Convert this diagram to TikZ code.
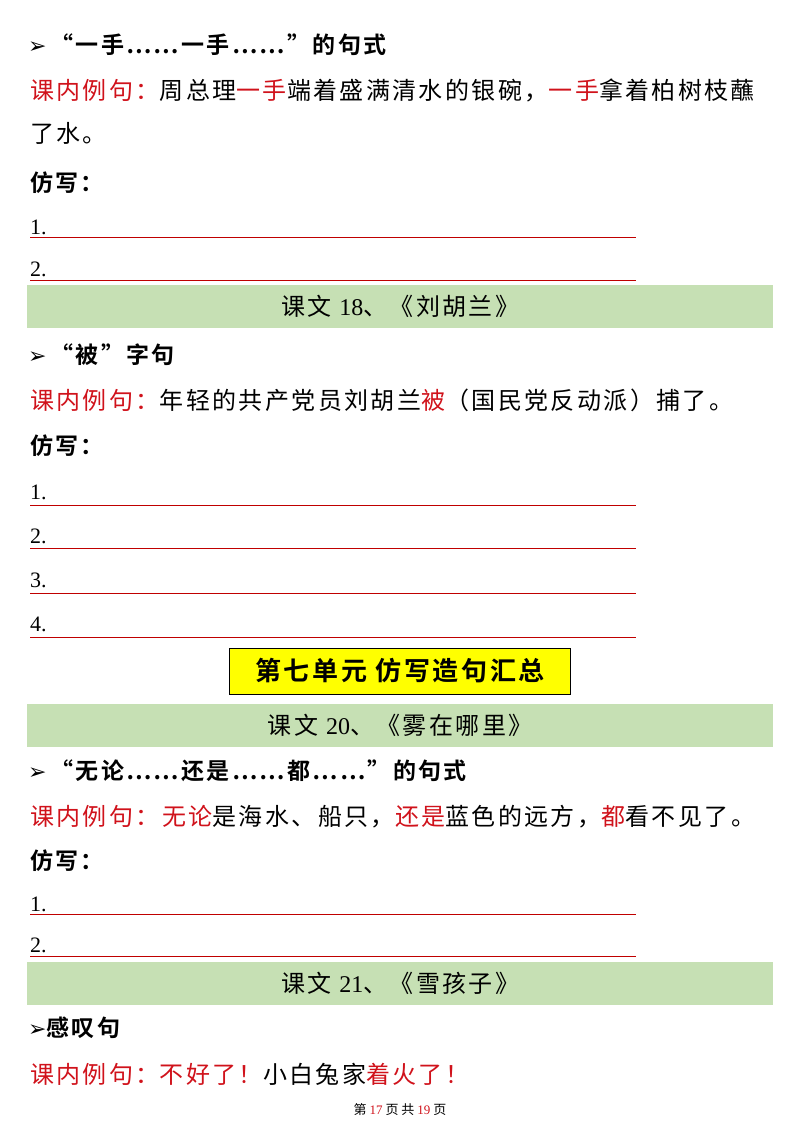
\documentclass[tikz,border=0pt]{standalone}
\usepackage{fontspec}
\setmainfont{Liberation Serif}
\newfontfamily\cjk[LetterSpace=10]{Noto Sans CJK SC}
\newfontfamily\cjkn{Noto Sans CJK SC}
\newfontfamily\cjkb[LetterSpace=10]{Noto Sans CJK SC Bold}
\newfontfamily\dvs{DejaVu Sans}
\definecolor{hred}{HTML}{D0121B}
\definecolor{band}{HTML}{C6E0B4}
\definecolor{ylw}{HTML}{FFFF00}
\definecolor{lred}{HTML}{C00000}
\begin{document}
\begin{tikzpicture}[x=1pt,y=-1pt,
  txt/.style={anchor=west,inner sep=0,font=\fontsize{24}{26}\cjk},
  head/.style={anchor=west,inner sep=0,font=\fontsize{23}{25}\cjkb},
  num/.style={anchor=west,inner sep=0,font=\fontsize{22}{24}\selectfont},
  wline/.style={lred,line width=1pt},
  bandbox/.style={fill=band,draw=none,minimum width=746pt,minimum height=43pt,anchor=north west,inner sep=0,font=\fontsize{24}{26}\cjk}]
\useasboundingbox (0,0) rectangle (800,1132);
\newcommand\ar{{\dvs\fontsize{22}{24}\selectfont ➢}}
\newcommand\rr[1]{\textcolor{hred}{#1}}
% section 1
\node[head] (h1) at (28,45) {\ar\,“一手……一手……”的句式};
\node[txt] (e1) at (30,90) {\rr{课内例句：}周总理\rr{一手}端着盛满清水的银碗，\rr{一手}拿着柏树枝蘸};
\node[txt] (e1b) at (30,133) {了水。};
\node[head] (f1) at (30,183) {仿写：};
\node[num] (n11) at (30,227) {1.};
\draw[wline] (30,237) -- (636,237);
\node[num] (n12) at (30,269) {2.};
\draw[wline] (30,280) -- (636,280);
\node[bandbox] (b1) at (27,285) {课文 {\rmfamily 18}、《刘胡兰》};
% section 2
\node[head] (h2) at (28,355) {\ar\,“被”字句};
\node[txt] (e2) at (30,400) {\rr{课内例句：}年轻的共产党员刘胡兰\rr{被}（国民党反动派）捕了。};
\node[head] (f2) at (30,446) {仿写：};
\node[num] at (30,492) {1.}; \draw[wline] (30,505) -- (636,505);
\node[num] at (30,536) {2.}; \draw[wline] (30,548) -- (636,548);
\node[num] at (30,580) {3.}; \draw[wline] (30,593) -- (636,593);
\node[num] at (30,624) {4.}; \draw[wline] (30,637) -- (636,637);
\node[fill=ylw,draw=black,line width=0.8pt,minimum width=341pt,minimum height=46pt,inner sep=0,font=\fontsize{26}{28}\cjkb] (unit) at (400,671) {第七单元~仿写造句汇总};
\node[bandbox] (b2) at (27,704) {课文 {\rmfamily 20}、《雾在哪里》};
% section 3
\node[head] (h3) at (28,771) {\ar\,“无论……还是……都……”的句式};
\node[txt] (e3) at (30,817) {\rr{课内例句：无论}是海水、船只，\rr{还是}蓝色的远方，\rr{都}看不见了。};
\node[head] (f3) at (30,861) {仿写：};
\node[num] at (30,904) {1.}; \draw[wline] (30,914) -- (636,914);
\node[num] at (30,945) {2.}; \draw[wline] (30,956) -- (636,956);
\node[bandbox] (b3) at (27,962) {课文 {\rmfamily 21}、《雪孩子》};
% section 4
\node[head] (h4) at (28,1028) {\ar 感叹句};
\node[txt] (e4) at (30,1074) {\rr{课内例句：}\rr{不好了！}小白兔家\rr{着火了！}};
\node[inner sep=0,font=\fontsize{13}{15}\cjkn] (foot) at (400,1110) {第 \rr{\rmfamily 17} 页 共 \rr{\rmfamily 19} 页};
\end{tikzpicture}
\end{document}
